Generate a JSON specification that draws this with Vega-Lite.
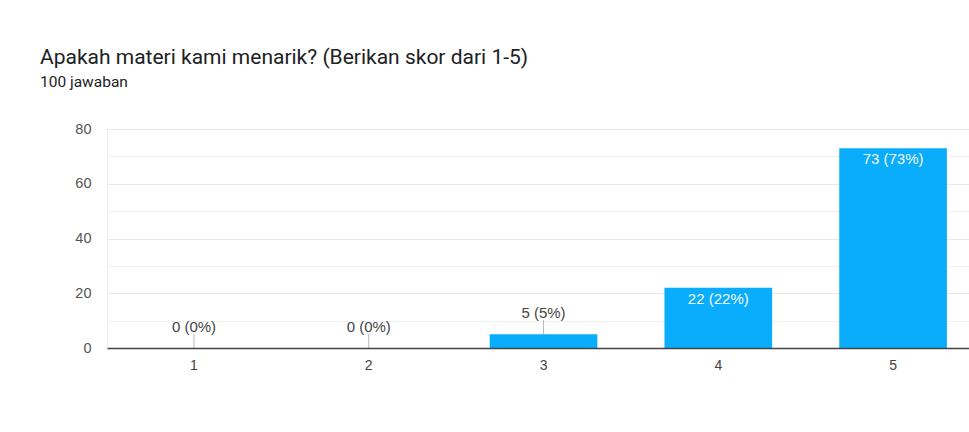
{
  "$schema": "https://vega.github.io/schema/vega-lite/v6.json",
  "autosize": {"type": "none"},
  "padding": {"left": 107, "top": 129, "right": 0, "bottom": 84},
  "width": 862,
  "height": 219,
  "background": "white",
  "title": {
    "text": "Apakah materi kami menarik? (Berikan skor dari 1-5)",
    "subtitle": "100 jawaban",
    "anchor": "start",
    "frame": "group",
    "dx": -67,
    "offset": 31,
    "font": "Roboto",
    "fontSize": 21,
    "fontWeight": "normal",
    "color": "#202124",
    "subtitleFont": "Roboto",
    "subtitleFontSize": 15.5,
    "subtitleColor": "#202124",
    "subtitlePadding": 7
  },
  "config": {
    "view": {"stroke": null},
    "font": "Liberation Sans"
  },
  "data": {
    "values": [
      {"score": "1", "count": 0, "label": "0 (0%)"},
      {"score": "2", "count": 0, "label": "0 (0%)"},
      {"score": "3", "count": 5, "label": "5 (5%)"},
      {"score": "4", "count": 22, "label": "22 (22%)"},
      {"score": "5", "count": 73, "label": "73 (73%)"}
    ]
  },
  "encoding": {
    "x": {
      "field": "score",
      "type": "nominal",
      "sort": null,
      "scale": {"paddingInner": 0.384, "paddingOuter": 0.158, "align": 0.6},
      "axis": {
        "title": null,
        "labelAngle": 0,
        "labelFontSize": 14,
        "labelColor": "#444444",
        "labelPadding": 10,
        "ticks": false,
        "domainColor": "#444444",
        "domainWidth": 1.5,
        "zindex": 2
      }
    },
    "y": {
      "field": "count",
      "type": "quantitative",
      "scale": {"domain": [0, 80], "nice": false},
      "axis": {
        "title": null,
        "values": [0, 10, 20, 30, 40, 50, 60, 70, 80],
        "labelExpr": "datum.value % 20 === 0 ? datum.label : ''",
        "labelFontSize": 14.5,
        "labelColor": "#555555",
        "labelPadding": 16,
        "ticks": false,
        "domainColor": "#eeeeee",
        "gridColor": {"condition": {"test": "datum.value % 20 === 0", "value": "#e8e8e8"}, "value": "#f1f1f1"}
      }
    }
  },
  "layer": [
    {"mark": {"type": "bar", "color": "#0aadfc"}},
    {
      "transform": [{"filter": "datum.count < 10"}],
      "mark": {"type": "tick", "orient": "vertical", "size": 14, "thickness": 1, "color": "#9a9a9a", "yOffset": -7}
    },
    {
      "transform": [{"filter": "datum.count < 10"}],
      "mark": {"type": "text", "baseline": "alphabetic", "dy": -16, "fontSize": 15, "color": "#444444"},
      "encoding": {"text": {"field": "label"}}
    },
    {
      "transform": [{"filter": "datum.count >= 10"}],
      "mark": {"type": "text", "baseline": "alphabetic", "dy": 16, "fontSize": 15, "color": "#eef8ff"},
      "encoding": {"text": {"field": "label"}}
    }
  ]
}
